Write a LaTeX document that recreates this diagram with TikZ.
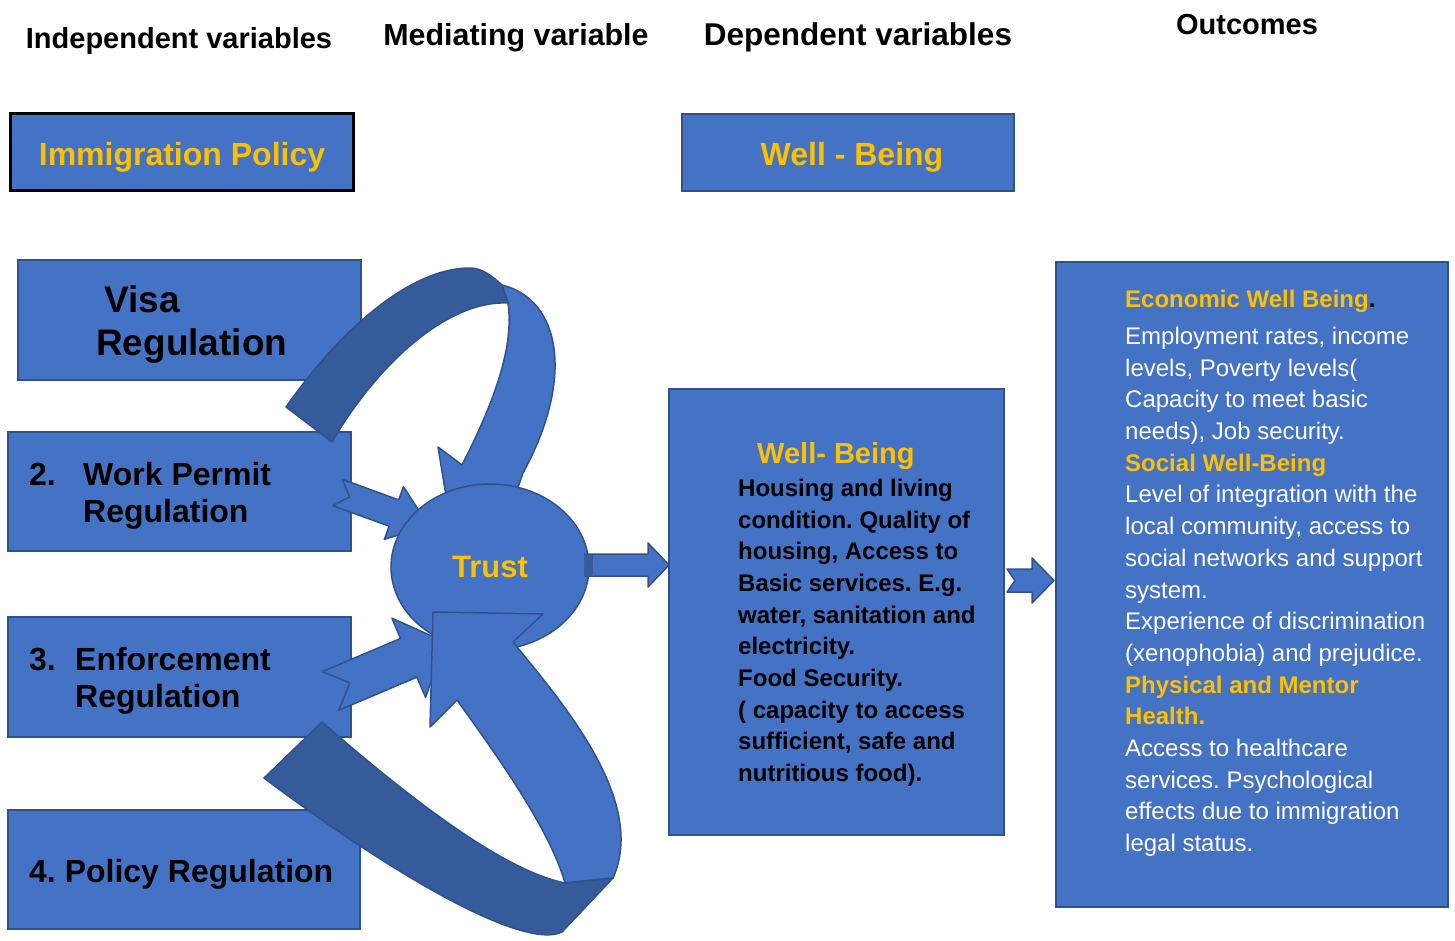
\documentclass[tikz,border=0pt]{standalone}
\usepackage{fontspec}
\setmainfont{Liberation Sans}
\usetikzlibrary{shapes.geometric}
\definecolor{boxblue}{HTML}{4472C4}
\definecolor{edgeblue}{HTML}{2F528F}
\definecolor{foldblue}{HTML}{355B9B}
\definecolor{gold}{HTML}{FFC000}
\frenchspacing
\newcommand\notchshape[5]{\draw[shapefill] (0,-#1) -- (#3,-#1) -- (#3,-#2) -- ({#3+#4},0) -- (#3,#2) -- (#3,#1) -- (0,#1) -- (#5,0) -- cycle;}
\begin{document}
\begin{tikzpicture}[x=1pt, y=-1pt,
		headtext/.style = {anchor=base, inner sep=0pt, font=\bfseries\fontsize{29}{35}\selectfont},
		varbox/.style = {draw=edgeblue, line width=2pt, fill=boxblue, inner sep=0pt},
		shapefill/.style = {draw=edgeblue, line width=1.5pt, fill=boxblue, line join=round},
		foldfill/.style = {shapefill, fill=foldblue},
		goldtext/.style = {text=gold, inner sep=0pt, font=\bfseries\fontsize{32}{38}\selectfont},
		itemtext/.style = {anchor=base west, align=left, inner sep=0pt, font=\bfseries\fontsize{32}{37}\selectfont},
		bodytext/.style = {anchor=base west, align=left, inner sep=0pt, font=\fontsize{24}{31.7}\selectfont},
		notcharrow/.pic = {\notchshape#1}
	]
	\useasboundingbox (0,0) rectangle (1455,941);
	\node[headtext] (indep) at (179,49) {Independent variables};
	\node[headtext, font=\bfseries\fontsize{30.4}{36}\selectfont] (mediat) at (516,46) {Mediating variable};
	\node[headtext, font=\bfseries\fontsize{31.5}{37}\selectfont] (depend) at (858,46) {Dependent variables};
	\node[headtext] (outcome) at (1247,35) {Outcomes};

	\node[varbox, draw=black, line width=3pt, minimum width=343, minimum height=77] (policy) at (181.5,152.5) {};
	\node[goldtext, anchor=base] (policytxt) at (182,166) {Immigration Policy};
	\node[varbox, minimum width=332, minimum height=77] (wellbeing) at (848,152.5) {};
	\node[goldtext, anchor=base] (wellbeingtxt) at (852,166) {Well - Being};

	\node[varbox, minimum width=343, minimum height=120] (visa) at (189.5,320) {};
	\node[itemtext, font=\bfseries\fontsize{37}{43}\selectfont] (visatxt) at (96,355) {\hspace*{8pt}Visa\\Regulation};
	\node[varbox, minimum width=343, minimum height=119] (work) at (179.5,491.5) {};
	\node[itemtext] (worktxt) at (29,522.5) {\makebox[54pt][l]{2.}Work Permit\\\hspace*{54pt}Regulation};
	\node[varbox, minimum width=343, minimum height=120] (enforce) at (179.5,677) {};
	\node[itemtext] (enforcetxt) at (29,707.5) {\makebox[46pt][l]{3.}Enforcement\\\hspace*{46pt}Regulation};
	\node[varbox, minimum width=352, minimum height=119] (polreg) at (184,869.5) {};
	\node[itemtext] (polregtxt) at (29,882.5) {4. Policy Regulation};

	\node[varbox, minimum width=335, minimum height=446] (mid) at (836.5,612) {};
	\node[goldtext, anchor=base west, font=\bfseries\fontsize{29}{35}\selectfont] (midtitle) at (757,463.4) {Well- Being};
	\node[bodytext, font=\bfseries\fontsize{24}{31.67}\selectfont] (midtxt) at (738,781.6) {Housing and living\\condition. Quality of\\housing, Access to\\Basic services. E.g.\\water, sanitation and\\electricity.\\Food Security.\\( capacity to access\\sufficient, safe and\\nutritious food).};

	\node[varbox, minimum width=392, minimum height=645] (out) at (1252,584.5) {};
	\node[bodytext, text=white] (outtxt) at (1125,851.6) {{\bfseries\color{gold}Economic Well Being}{\bfseries\color{black}.}\\[5.3pt]
		Employment rates, income\\levels, Poverty levels(\\Capacity to meet basic\\needs), Job security.\\
		{\bfseries\color{gold}Social Well-Being}\\Level of integration with the\\local community, access to\\social networks and support\\system.\\Experience of discrimination\\(xenophobia) and prejudice.\\
		{\bfseries\color{gold}Physical and Mentor}\\{\bfseries\color{gold}Health.}\\Access to healthcare\\services. Psychological\\effects due to immigration\\legal status.};

	\draw[shapefill] (502,285) .. controls (562,300) and (574,380) .. (523,473) -- (505,525) -- (450,520) -- (438,447) -- (462,465) .. controls (490,410) and (515,350) .. (508,303) -- cycle;
	\draw[foldfill] (286,407) .. controls (340,330) and (410,268) .. (470,268) .. controls (482,268) and (492,276) .. (502,285) -- (508,303) .. controls (450,300) and (380,360) .. (332,442) -- cycle;
	\pic[rotate=-20] (workarrow) at (337.5,492.5) {notcharrow={14}{28}{60}{37}{13}};

	\node[ellipse, draw=edgeblue, line width=1.5pt, fill=boxblue, minimum width=198, minimum height=166, inner sep=0pt, text=gold, font=\bfseries\fontsize{31}{37}\selectfont] (trust) at (490,567) {Trust};

	\pic[rotate=23] (enforcearrow) at (330.5,691) {notcharrow={21}{43}{85}{40}{21}};

	\draw[shapefill] (565,883) -- (613,878) .. controls (648,800) and (560,700) .. (513,642) -- (543,614) -- (433,612) -- (430,727) -- (457,700) .. controls (500,760) and (550,830) .. (565,883) -- cycle;
	\draw[foldfill] (264,778) -- (322,722) .. controls (400,790) and (500,870) .. (565,883) -- (613,878) -- (562,932) .. controls (525,950) and (400,880) .. (264,778) -- cycle;

	\pic (trustarrow) at (585,565) {notcharrow={11}{22}{63}{21}{0}};
	\fill[foldblue] (585,555) rectangle (593,575);
	\pic (outarrow) at (1007,580.5) {notcharrow={11.5}{22.5}{25}{22}{8}};
\end{tikzpicture}
\end{document}
